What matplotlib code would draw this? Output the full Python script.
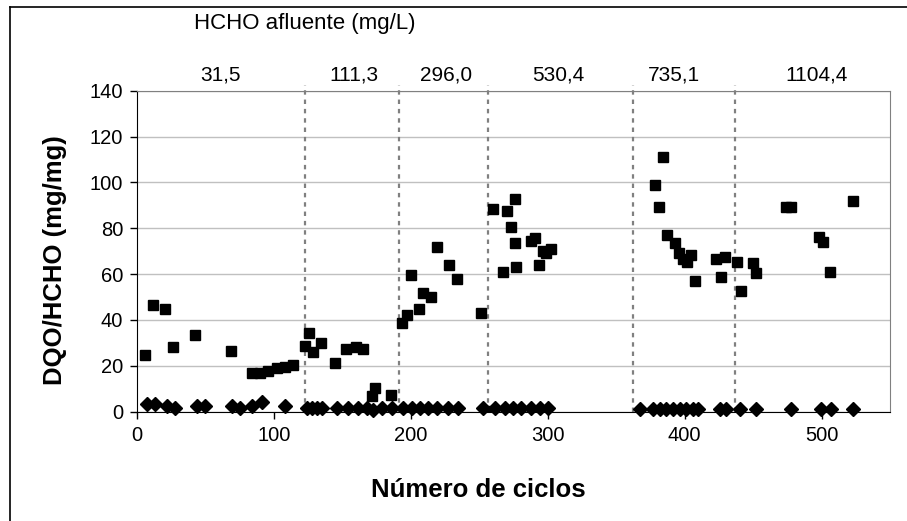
import matplotlib
matplotlib.use("Agg")
import matplotlib.pyplot as plt
from matplotlib.lines import Line2D

plt.rcParams['font.family'] = ['Liberation Sans', 'DejaVu Sans']

# DQO/HCHO ratio (squares)
sq_x = [5.8, 11.4, 20.4, 26.5, 42.3, 68.6, 83.7, 89.8, 95.9, 102, 108, 114.1,
        122.6, 125.8, 128.2, 134.3, 144.5, 153, 159.6, 165.2, 171.3, 173.7, 185.4,
        193.9, 197.3, 200, 205.8, 209, 214.6, 219.2, 227.7, 233.8, 251.3, 254,
        260.1, 267.4, 270.3, 273.2, 275.9, 275.9, 277.1, 288.1, 290.5, 293.7, 296.6,
        299, 302.7, 378.1, 381, 384.2, 387.1, 392.7, 395.8, 398.8, 402, 404.9, 407.3,
        423.1, 426.3, 429.2, 438.2, 440.9, 449.9, 452.3, 474.2, 477.9, 498, 501,
        506.3, 522.9]
sq_y = [24.7, 46.4, 44.6, 28.1, 33.3, 26.3, 16.7, 16.7, 17.9, 18.9, 19.6, 20.4,
        28.8, 34.2, 26.2, 29.8, 21.1, 27.5, 28.3, 27.5, 6.8, 10.2, 7.4,
        38.5, 42.2, 59.5, 44.6, 51.6, 49.9, 71.7, 63.8, 57.7, 42.9, 0.3,
        88.3, 60.9, 87.4, 80.4, 92.6, 73.4, 63, 74.4, 75.6, 64, 70.2,
        69.3, 70.8, 98.9, 89.1, 110.9, 77.1, 73.4, 69.1, 66.5, 65.4, 68.3, 57,
        66.5, 58.6, 67.6, 65.4, 52.6, 64.7, 60.4, 89.1, 89.1, 76.1, 74.1,
        61.1, 91.9]

# second series (diamonds), close to zero
dm_x = [7.1, 13.1, 21.7, 27.7, 43.6, 49.6, 69.1, 75.2, 83.7, 91.0, 108, 123.9,
        127.5, 131.2, 134.8, 145.8, 154.2, 161.5, 167.7, 172.5, 178.6, 185.9, 194.4,
        200.5, 206.6, 212.6, 218.8, 227.2, 234.5, 252.8, 261.3, 268.6, 274.7, 280.8,
        288.1, 294.2, 300.2, 367.2, 376.9, 381.8, 386.6, 391.5, 396.4, 401.2, 406.1,
        409.7, 425.5, 430.4, 440.1, 452.3, 477.9, 499.8, 507.1, 522.8]
dm_y = [3.5, 3.5, 2.6, 1.8, 2.6, 2.6, 2.6, 1.8, 2.6, 4.2, 2.6, 1.5,
        1.5, 1.5, 1.5, 1.5, 1.5, 1.5, 1.5, 0.6, 1.5, 1.5, 1.5,
        1.5, 1.5, 1.5, 1.5, 1.5, 1.5, 1.5, 1.5, 1.5, 1.5, 1.5,
        1.5, 1.5, 1.5, 1.3, 1.3, 1.3, 1.3, 1.3, 1.3, 1.3, 1.3,
        1.0, 1.3, 1.3, 1.3, 1.3, 1.0, 1.0, 1.0, 1.0]

# influent HCHO phases
boundaries = [122.6, 191.2, 256.7, 362.0, 436.5]
phase_x = [61.3, 158.4, 225.5, 308, 392, 496]
phase_labels = ['31,5', '111,3', '296,0', '530,4', '735,1', '1104,4']

W, H = 907, 521
fig = plt.figure(figsize=(W / 100, H / 100), dpi=100)
ax = fig.add_axes([137 / W, 1 - 411.7 / H, (890 - 137) / W, (411.7 - 90.7) / H])

ax.set_xlim(0, 550)
ax.set_ylim(0, 140)
ax.set_xticks(range(0, 501, 100))
ax.set_yticks(range(0, 141, 20))
ax.yaxis.grid(True, color='#c0c0c0', linewidth=1)
ax.set_axisbelow(True)

for s in ['top', 'right']:
    ax.spines[s].set_color('#808080')
for s in ['left', 'bottom']:
    ax.spines[s].set_color('black')
ax.tick_params(labelsize=14.5, length=5, width=1, pad=5, direction='out')

ax.vlines(boundaries, 0, 142.6, colors='#808080', linestyles=(0, (2, 2.2)),
          linewidth=1.6, clip_on=False, zorder=1)

ax.plot(sq_x, sq_y, 's', color='black', markersize=6.8, linestyle='none', zorder=3)
ax.plot(dm_x, dm_y, 'D', color='black', markersize=7.5, linestyle='none',
        clip_on=False, zorder=3)

for x, lab in zip(phase_x, phase_labels):
    ax.text(x, 146.8, lab, ha='center', va='center', fontsize=15)

fig.text(305 / W, 1 - 23 / H, 'HCHO afluente (mg/L)', ha='center', va='center', fontsize=16)
fig.text(478 / W, 1 - 490 / H, 'Número de ciclos', ha='center', va='center',
         fontsize=18.5, fontweight='bold')
fig.text(55 / W, 1 - 260 / H, 'DQO/HCHO (mg/mg)', ha='center', va='center',
         fontsize=18.5, fontweight='bold', rotation=90)

# chart area frame (left and top edges visible)
fig.add_artist(Line2D([10 / W, 10 / W], [0, 1 - 6.5 / H], transform=fig.transFigure,
                      color='black', linewidth=1.2))
fig.add_artist(Line2D([10 / W, 1], [1 - 6.5 / H, 1 - 6.5 / H], transform=fig.transFigure,
                      color='black', linewidth=1.2))

fig.savefig('out.png', dpi=100)
